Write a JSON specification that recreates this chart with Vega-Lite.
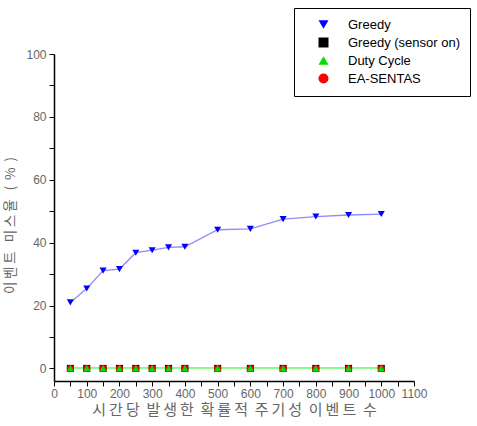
{
  "$schema": "https://vega.github.io/schema/vega-lite/v6.json",
  "width": 360,
  "height": 327,
  "autosize": {"type": "none"},
  "padding": {"left": 54, "top": 54, "right": 63, "bottom": 45},
  "background": "white",
  "config": {
    "view": {"stroke": null},
    "font": "Liberation Sans"
  },
  "data": {
    "values": [
      {"x": 50, "v": 21.0, "s": "Greedy"},
      {"x": 100, "v": 25.4, "s": "Greedy"},
      {"x": 150, "v": 31.1, "s": "Greedy"},
      {"x": 200, "v": 31.6, "s": "Greedy"},
      {"x": 250, "v": 36.8, "s": "Greedy"},
      {"x": 300, "v": 37.6, "s": "Greedy"},
      {"x": 350, "v": 38.5, "s": "Greedy"},
      {"x": 400, "v": 38.7, "s": "Greedy"},
      {"x": 500, "v": 44.1, "s": "Greedy"},
      {"x": 600, "v": 44.4, "s": "Greedy"},
      {"x": 700, "v": 47.5, "s": "Greedy"},
      {"x": 800, "v": 48.3, "s": "Greedy"},
      {"x": 900, "v": 48.8, "s": "Greedy"},
      {"x": 1000, "v": 49.1, "s": "Greedy"},
      {"x": 50, "v": 0, "s": "Greedy (sensor on)"},
      {"x": 100, "v": 0, "s": "Greedy (sensor on)"},
      {"x": 150, "v": 0, "s": "Greedy (sensor on)"},
      {"x": 200, "v": 0, "s": "Greedy (sensor on)"},
      {"x": 250, "v": 0, "s": "Greedy (sensor on)"},
      {"x": 300, "v": 0, "s": "Greedy (sensor on)"},
      {"x": 350, "v": 0, "s": "Greedy (sensor on)"},
      {"x": 400, "v": 0, "s": "Greedy (sensor on)"},
      {"x": 500, "v": 0, "s": "Greedy (sensor on)"},
      {"x": 600, "v": 0, "s": "Greedy (sensor on)"},
      {"x": 700, "v": 0, "s": "Greedy (sensor on)"},
      {"x": 800, "v": 0, "s": "Greedy (sensor on)"},
      {"x": 900, "v": 0, "s": "Greedy (sensor on)"},
      {"x": 1000, "v": 0, "s": "Greedy (sensor on)"},
      {"x": 50, "v": 0, "s": "EA-SENTAS"},
      {"x": 100, "v": 0, "s": "EA-SENTAS"},
      {"x": 150, "v": 0, "s": "EA-SENTAS"},
      {"x": 200, "v": 0, "s": "EA-SENTAS"},
      {"x": 250, "v": 0, "s": "EA-SENTAS"},
      {"x": 300, "v": 0, "s": "EA-SENTAS"},
      {"x": 350, "v": 0, "s": "EA-SENTAS"},
      {"x": 400, "v": 0, "s": "EA-SENTAS"},
      {"x": 500, "v": 0, "s": "EA-SENTAS"},
      {"x": 600, "v": 0, "s": "EA-SENTAS"},
      {"x": 700, "v": 0, "s": "EA-SENTAS"},
      {"x": 800, "v": 0, "s": "EA-SENTAS"},
      {"x": 900, "v": 0, "s": "EA-SENTAS"},
      {"x": 1000, "v": 0, "s": "EA-SENTAS"},
      {"x": 50, "v": 0, "s": "Duty Cycle"},
      {"x": 100, "v": 0, "s": "Duty Cycle"},
      {"x": 150, "v": 0, "s": "Duty Cycle"},
      {"x": 200, "v": 0, "s": "Duty Cycle"},
      {"x": 250, "v": 0, "s": "Duty Cycle"},
      {"x": 300, "v": 0, "s": "Duty Cycle"},
      {"x": 350, "v": 0, "s": "Duty Cycle"},
      {"x": 400, "v": 0, "s": "Duty Cycle"},
      {"x": 500, "v": 0, "s": "Duty Cycle"},
      {"x": 600, "v": 0, "s": "Duty Cycle"},
      {"x": 700, "v": 0, "s": "Duty Cycle"},
      {"x": 800, "v": 0, "s": "Duty Cycle"},
      {"x": 900, "v": 0, "s": "Duty Cycle"},
      {"x": 1000, "v": 0, "s": "Duty Cycle"}
    ]
  },
  "encoding": {
    "x": {
      "field": "x",
      "type": "quantitative",
      "scale": {"domain": [0, 1100], "nice": false, "zero": false},
      "axis": {
        "values": [0, 50, 100, 150, 200, 250, 300, 350, 400, 450, 500, 550, 600, 650, 700, 750, 800, 850, 900, 950, 1000, 1050, 1100],
        "format": "d",
        "labelExpr": "datum.value % 100 === 0 ? datum.label : ''",
        "labelOverlap": false,
        "labelFlush": false,
        "grid": false,
        "domainColor": "black",
        "domainWidth": 1.5,
        "tickColor": "black",
        "tickWidth": 1,
        "tickSize": 5,
        "labelFont": "Liberation Sans",
        "labelFontSize": 12,
        "labelColor": "#666666",
        "labelPadding": 2,
        "title": "시\u2009간\u2009당\u00a0\u00a0발\u2009생\u2009한\u00a0\u00a0확\u2009률\u2009적\u00a0\u00a0주\u2009기\u2009성\u00a0\u00a0이\u2009벤\u2009트\u00a0\u00a0수",
        "titleFont": "Noto Sans CJK KR",
        "titleFontSize": 15,
        "titleFontWeight": "normal",
        "titleColor": "#666666",
        "titlePadding": 3,
        "encode": {
          "ticks": {"y2": {"value": {"expr": "datum.value % 100 === 0 ? 5 : 3"}}}
        }
      }
    },
    "y": {
      "field": "v",
      "type": "quantitative",
      "scale": {"domain": [-4, 100], "nice": false, "zero": false},
      "axis": {
        "values": [0, 10, 20, 30, 40, 50, 60, 70, 80, 90, 100],
        "labelExpr": "datum.value % 20 === 0 ? datum.label : ''",
        "labelOverlap": false,
        "labelFlush": false,
        "grid": false,
        "domainColor": "black",
        "domainWidth": 1.5,
        "tickColor": "black",
        "tickWidth": 1,
        "tickSize": 5,
        "labelFont": "Liberation Sans",
        "labelFontSize": 12,
        "labelColor": "#666666",
        "labelPadding": 3,
        "title": "이\u2009벤\u2009트\u00a0\u00a0\u00a0미\u2009스\u2009율\u00a0\u00a0\u00a0(\u00a0\u00a0%\u00a0\u00a0)",
        "titleFont": "Noto Sans CJK KR",
        "titleFontSize": 13.5,
        "titleFontWeight": "normal",
        "titleColor": "#666666",
        "titlePadding": 8,
        "titleY": 171,
        "encode": {
          "ticks": {"x2": {"value": {"expr": "datum.value % 20 === 0 ? -5 : -3"}}}
        }
      }
    }
  },
  "layer": [
    {
      "mark": {"type": "line", "strokeWidth": 1.3},
      "encoding": {
        "stroke": {
          "field": "s",
          "type": "nominal",
          "scale": {
            "domain": ["Greedy", "Greedy (sensor on)", "EA-SENTAS", "Duty Cycle"],
            "range": ["#8c8cff", "#333333", "#ffa8a8", "#8cff8c"]
          },
          "legend": null
        }
      }
    },
    {
      "mark": {"type": "point", "filled": true, "opacity": 1, "size": 50},
      "encoding": {
        "shape": {
          "field": "s",
          "type": "nominal",
          "scale": {
            "domain": ["Greedy", "Greedy (sensor on)", "Duty Cycle", "EA-SENTAS"],
            "range": ["triangle-down", "square", "triangle-up", "circle"]
          },
          "legend": {"title": null}
        },
        "color": {
          "field": "s",
          "type": "nominal",
          "scale": {
            "domain": ["Greedy", "Greedy (sensor on)", "Duty Cycle", "EA-SENTAS"],
            "range": ["#0000ff", "#000000", "#00e000", "#ff0000"]
          },
          "legend": {
            "title": null,
            "orient": "none",
            "legendX": 240,
            "legendY": -46,
            "strokeColor": "black",
            "fillColor": "white",
            "padding": 10,
            "labelFont": "Liberation Sans",
            "labelFontSize": 13,
            "labelColor": "black",
            "labelLimit": 200,
            "rowPadding": 4,
            "symbolSize": 100,
            "symbolOffset": 13,
            "labelOffset": 18,
            "encode": {
              "symbols": {
                "shape": {"value": {"expr": "datum.value === 'Greedy' ? 'M-3.6,0L3.6,0M-0.9,-0.75L0.9,-0.75L0,0.85Z' : datum.value === 'Duty Cycle' ? 'M-3.6,0L3.6,0M-0.9,0.75L0.9,0.75L0,-0.85Z' : datum.value === 'EA-SENTAS' ? 'M-3.6,0L3.6,0M0.8,0A0.8,0.8,0,1,1,-0.8,0A0.8,0.8,0,1,1,0.8,0Z' : 'M-3.6,0L3.6,0M-0.65,-0.65L0.65,-0.65L0.65,0.65L-0.65,0.65Z'"}},
                "stroke": {"value": {"expr": "datum.value === 'Greedy' ? '#8c8cff' : datum.value === 'Duty Cycle' ? '#8cff8c' : datum.value === 'EA-SENTAS' ? '#ffa8a8' : '#333333'"}},
                "fill": {"value": {"expr": "datum.value === 'Greedy' ? '#0000ff' : datum.value === 'Duty Cycle' ? '#00e000' : datum.value === 'EA-SENTAS' ? '#ff0000' : '#000000'"}},
                "strokeWidth": {"value": 1.2},
                "opacity": {"value": 1}
              }
            }
          }
        }
      }
    }
  ]
}
